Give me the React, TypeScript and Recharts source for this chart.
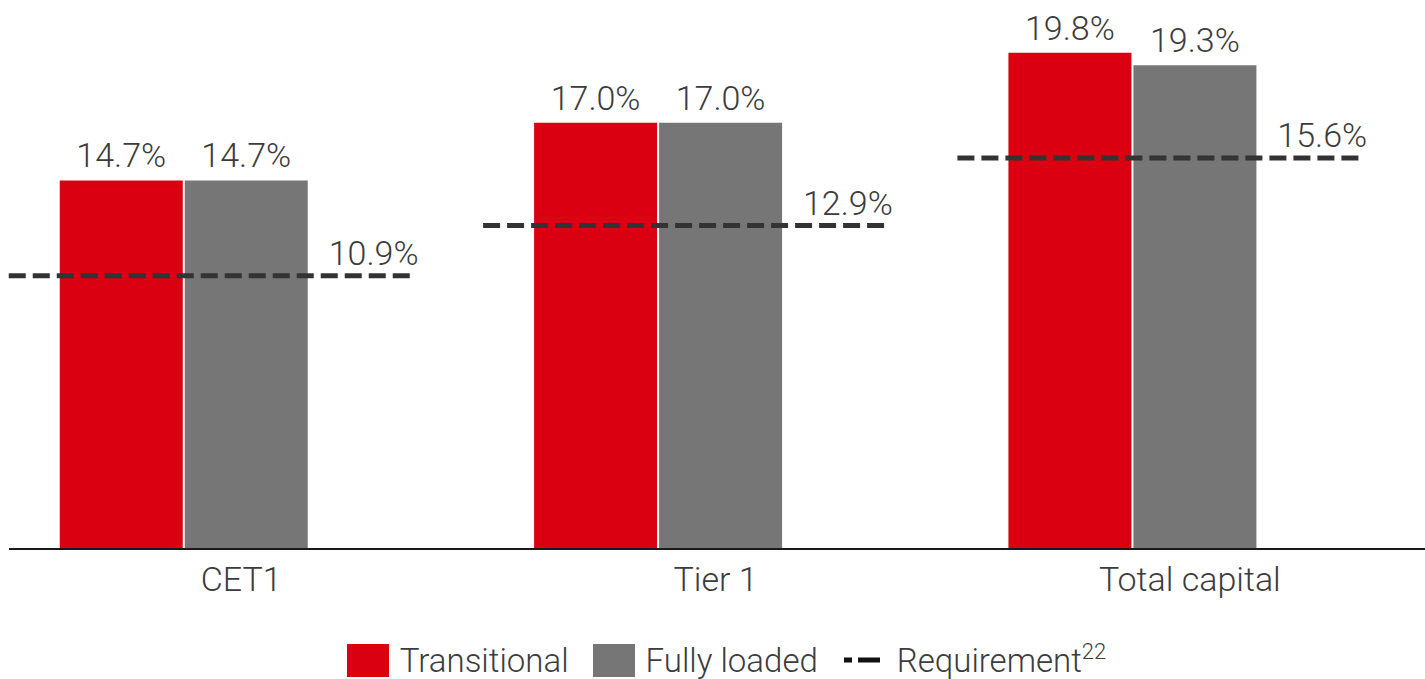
import React from 'react'
import { Bar, BarChart, LabelList, Legend, XAxis, YAxis } from 'recharts'

const categories = ['CET1', 'Tier 1', 'Total capital']
const transitional = [14.7, 17.0, 19.8]
const fullyLoaded = [14.7, 17.0, 19.3]
const requirement = [10.9, 12.9, 15.6]

const RED = '#db0011'
const GREY = '#767676'
const DASH = '#333333'
const TEXT = '#3c3c3c'
const FONT = 'Roboto, "Liberation Sans", sans-serif'

const data = categories.map((name, i) => ({
  name,
  transitional: transitional[i],
  fullyLoaded: fullyLoaded[i],
  requirement: requirement[i],
}))

// requirement is drawn as a dashed line across the group instead of a bar
function RequirementShape(props: any) {
  const { x, y, width, value } = props
  const v = Array.isArray(value) ? value[1] : value
  const start = x - 2 * (width + 2) - 51
  const end = x + width * 0.86
  return (
    <g>
      <line x1={start} x2={end} y1={y} y2={y} stroke={DASH} strokeWidth={5} strokeDasharray='17 7' />
      <text x={end + 3} y={y - 11} textAnchor='end' fill={TEXT} fontSize={34} fontWeight={300} fontFamily={FONT}>
        {v.toFixed(1)}%
      </text>
    </g>
  )
}

function LegendContent() {
  const item: React.CSSProperties = { display: 'flex', alignItems: 'center', marginRight: 24 }
  const label: React.CSSProperties = { fontSize: 33, fontWeight: 300, color: TEXT, fontFamily: FONT, marginLeft: 11 }
  return (
    <div style={{ display: 'flex', justifyContent: 'center', alignItems: 'center', height: 38, paddingLeft: 36 }}>
      <div style={item}>
        <div style={{ width: 42, height: 33, background: RED }} />
        <span style={label}>Transitional</span>
      </div>
      <div style={item}>
        <div style={{ width: 42, height: 33, background: GREY }} />
        <span style={label}>Fully loaded</span>
      </div>
      <div style={{ ...item, marginLeft: 2 }}>
        <svg width={36} height={10}>
          <line x1={0} x2={36} y1={5} y2={5} stroke={'#111'} strokeWidth={5} strokeDasharray='8 6 22' />
        </svg>
        <span style={{ ...label, marginLeft: 17 }}>
          Requirement<sup style={{ fontSize: 22, verticalAlign: 'top', position: 'relative', top: -2 }}>22</sup>
        </span>
      </div>
    </div>
  )
}

function CapitalRatiosChart() {
  return (
    <div style={{ position: 'absolute', left: 0, top: 0, width: 1425, height: 679, overflow: 'hidden' }}>
      <BarChart
        width={1432}
        height={679}
        data={data}
        margin={{ top: 0, right: 0, left: 9, bottom: 0 }}
        barGap={2}
        barCategoryGap='10.7%'
      >
        <XAxis
          dataKey='name'
          height={92}
          tickLine={false}
          axisLine={{ stroke: '#1a1a1a', strokeWidth: 2 }}
          tickMargin={12}
          tick={{ fontSize: 34, fill: TEXT, fontWeight: 300, fontFamily: FONT, dx: -5 }}
        />
        <YAxis hide domain={[0, 21.9]} />
        <Legend verticalAlign='bottom' content={<LegendContent />} wrapperStyle={{ height: 38 }} />
        <Bar dataKey='transitional' fill={RED} isAnimationActive={false}>
          <LabelList
            dataKey='transitional'
            position='top'
            offset={13}
            formatter={(v: any) => `${Number(v).toFixed(1)}%`}
            style={{ fontSize: 34, fill: TEXT, fontWeight: 300, fontFamily: FONT }}
          />
        </Bar>
        <Bar dataKey='fullyLoaded' fill={GREY} isAnimationActive={false}>
          <LabelList
            dataKey='fullyLoaded'
            position='top'
            offset={13}
            formatter={(v: any) => `${Number(v).toFixed(1)}%`}
            style={{ fontSize: 34, fill: TEXT, fontWeight: 300, fontFamily: FONT }}
          />
        </Bar>
        <Bar dataKey='requirement' fill={DASH} isAnimationActive={false} shape={<RequirementShape />} />
      </BarChart>
    </div>
  )
}

export default function App() {
  return <CapitalRatiosChart />
}
